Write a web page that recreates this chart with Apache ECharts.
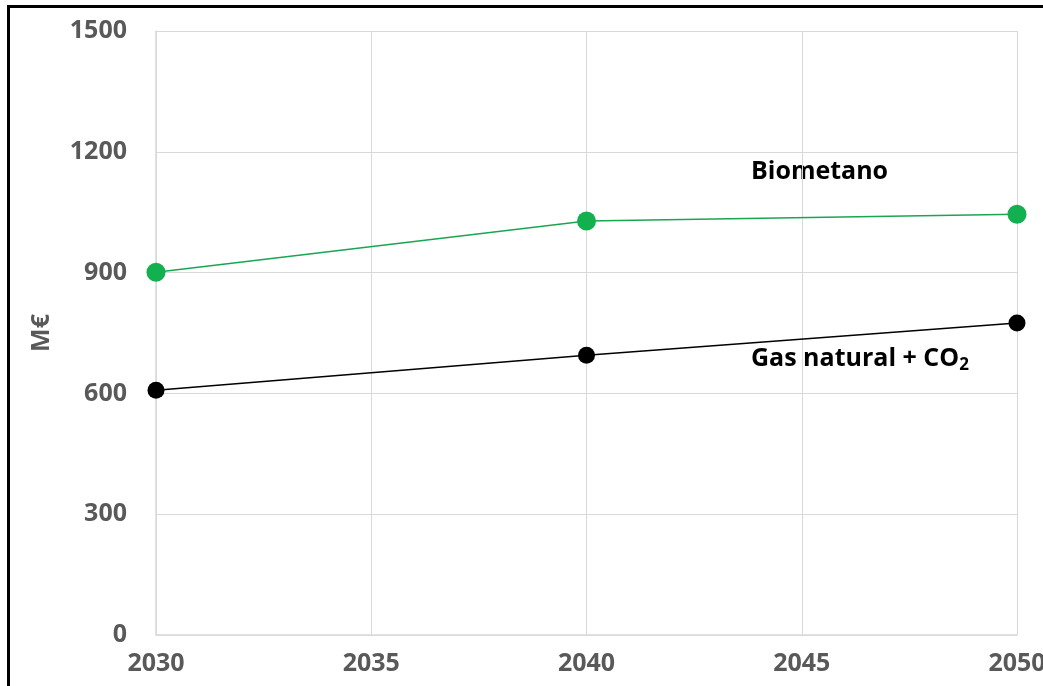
<!DOCTYPE html>
<html>
<head>
<meta charset="utf-8">
<script src="https://cdn.jsdelivr.net/npm/echarts@6/dist/echarts.min.js"></script>
<style>
html,body{margin:0;padding:0;background:#fff;}
#frame{position:absolute;left:7px;top:5px;width:1040px;height:690px;border-left:3px solid #000;border-top:3px solid #000;box-sizing:border-box;}
#chart{position:absolute;left:0;top:0;width:1043px;height:686px;}
</style>
</head>
<body>
<div id="frame"></div>
<div id="chart"></div>
<script>
const years = [2030, 2040, 2050];
const biometano = [901, 1028, 1045];
const gasNatural = [608, 695, 775];
const labelBio = 'Biometano';
const labelGas = 'Gas natural + CO';

const chart = echarts.init(document.getElementById('chart'));
const font = '"Open Sans", "Liberation Sans", sans-serif';
chart.setOption({
  animation: false,
  grid: {left: 156, right: 26, top: 31, bottom: 51, containLabel: false, outerBoundsMode: 'none'},
  xAxis: {
    type: 'value', min: 2030, max: 2050, interval: 5,
    axisLine: {show: true, lineStyle: {color: '#d9d9d9', width: 1.5}},
    axisTick: {show: false},
    splitLine: {show: true, lineStyle: {color: '#d9d9d9', width: 1}},
    axisLabel: {color: '#595959', fontSize: 25, fontWeight: 'bold', fontFamily: font, margin: 16,
      formatter: v => String(v)}
  },
  yAxis: {
    type: 'value', min: 0, max: 1500, interval: 300,
    name: 'M€', nameLocation: 'middle', nameGap: 102, nameRotate: 90,
    nameTextStyle: {color: '#595959', fontSize: 25, fontWeight: 'bold', fontFamily: font},
    axisLine: {show: true, lineStyle: {color: '#d9d9d9', width: 1.5}},
    axisTick: {show: false},
    splitLine: {show: true, lineStyle: {color: '#d9d9d9', width: 1}},
    axisLabel: {color: '#595959', fontSize: 25, fontWeight: 'bold', fontFamily: font, margin: 29,
      formatter: v => String(v)}
  },
  series: [
    {
      type: 'line', name: 'Biometano',
      data: years.map((y, i) => [y, biometano[i]]),
      symbol: 'circle', symbolSize: 19,
      lineStyle: {color: '#1aa552', width: 1.5},
      itemStyle: {color: '#13b04f'},
      z: 3
    },
    {
      type: 'line', name: 'Gas natural + CO2',
      data: years.map((y, i) => [y, gasNatural[i]]),
      symbol: 'circle', symbolSize: 17,
      lineStyle: {color: '#000', width: 1.5},
      itemStyle: {color: '#000'},
      z: 3
    }
  ],
  graphic: [
    {type: 'text', left: 751, top: 159, style: {text: labelBio, fill: '#000', font: 'bold 25px ' + font}},
    {type: 'text', left: 751, top: 346, style: {
      text: '{a|' + labelGas + '}{s|2}',
      rich: {
        a: {fill: '#000', fontSize: 25, fontWeight: 'bold', fontFamily: font},
        s: {fill: '#000', fontSize: 17, fontWeight: 'bold', fontFamily: font, padding: [14, 0, 0, 0]}
      }
    }}
  ]
});
</script>
</body>
</html>
